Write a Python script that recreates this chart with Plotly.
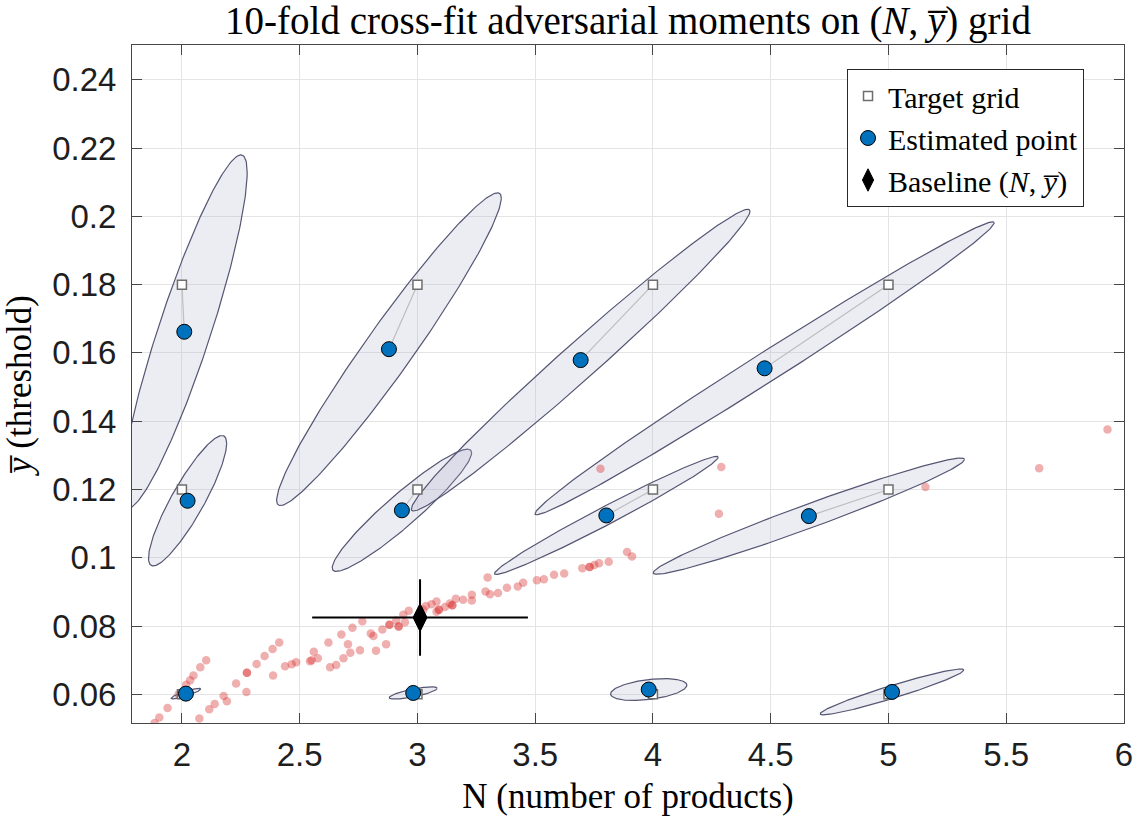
import numpy as np
import plotly.graph_objects as go

# ---------------- data ----------------
grid_N = [2, 2, 2, 3, 3, 3, 4, 4, 4, 5, 5, 5]
grid_y = [0.18, 0.12, 0.06, 0.18, 0.12, 0.06, 0.18, 0.12, 0.06, 0.18, 0.12, 0.06]

est_N = [2.010, 2.024, 2.017, 2.879, 2.934, 2.982, 3.693, 3.802, 3.982, 4.474, 4.662, 5.015]
est_y = [0.1662, 0.1167, 0.0602, 0.1611, 0.1139, 0.0604, 0.1579, 0.1124, 0.0614, 0.1555, 0.1122, 0.0607]

# confidence ellipse parameters (extent in N, extent in y, correlation)
ell_sN = [0.267, 0.166, 0.063, 0.477, 0.296, 0.102, 0.719, 0.475, 0.162, 0.975, 0.661, 0.305]
ell_sy = [0.0518, 0.0191, 0.00155, 0.0458, 0.0179, 0.0018, 0.0442, 0.0173, 0.0032, 0.0429, 0.0170, 0.0067]
ell_rho = [0.90, 0.88, 0.88, 0.966, 0.94, 0.76, 0.987, 0.985, 0.40, 0.993, 0.976, 0.956]

base_N = 3.011
base_y = 0.0825
base_errN = 0.458
base_erry = 0.0112

cloud_N = [1.884, 1.904, 1.939, 1.986, 2.018, 2.035, 2.049, 2.078, 2.103, 2.074, 2.116, 2.139,
           2.177, 2.191, 2.230, 2.276, 2.276, 2.274, 2.317, 2.351, 2.385, 2.413, 2.387, 2.438,
           2.466, 2.485, 2.544, 2.551, 2.577, 2.560, 2.622, 2.629, 2.655, 2.677, 2.705, 2.686,
           2.715, 2.724, 2.756, 2.766, 2.802, 2.813, 2.824, 2.851, 2.867, 2.881, 2.881, 2.920,
           2.920, 2.910, 2.940, 2.947, 2.963, 3.025, 3.036, 3.060, 3.081, 3.091, 3.091, 3.081,
           3.117, 3.138, 3.148, 3.148, 3.163, 3.194, 3.231, 3.231, 3.289, 3.298, 3.308, 3.342,
           3.380, 3.426, 3.449, 3.507, 3.537, 3.580, 3.623, 3.700, 3.731, 3.731, 3.751, 3.771,
           3.812, 3.890, 3.911, 3.777, 4.290, 4.280, 5.157, 5.640, 5.930]
cloud_y = [0.0516, 0.0532, 0.0560, 0.0600, 0.0628, 0.0641, 0.0655, 0.0679, 0.0700, 0.0529, 0.0556, 0.0572,
           0.0595, 0.0580, 0.0632, 0.0663, 0.0663, 0.0607, 0.0689, 0.0712, 0.0733, 0.0752, 0.0655, 0.0682,
           0.0688, 0.0694, 0.0697, 0.0700, 0.0706, 0.0725, 0.0752, 0.0679, 0.0686, 0.0775, 0.0747, 0.0706,
           0.0722, 0.0795, 0.0729, 0.0814, 0.0778, 0.0771, 0.0728, 0.0790, 0.0747, 0.0804, 0.0804, 0.0799,
           0.0799, 0.0816, 0.0833, 0.0811, 0.0845, 0.0848, 0.0859, 0.0864, 0.0872, 0.0848, 0.0848, 0.0842,
           0.0856, 0.0866, 0.0861, 0.0861, 0.0880, 0.0877, 0.0892, 0.0875, 0.0901, 0.0942, 0.0893, 0.0897,
           0.0912, 0.0916, 0.0927, 0.0934, 0.0937, 0.0950, 0.0954, 0.0969, 0.0973, 0.0973, 0.0979, 0.0984,
           0.0988, 0.1017, 0.1004, 0.1261, 0.1266, 0.1129, 0.1207, 0.1262, 0.1376]

x_ticks = [2, 2.5, 3, 3.5, 4, 4.5, 5, 5.5, 6]
x_ticktext = ["2", "2.5", "3", "3.5", "4", "4.5", "5", "5.5", "6"]
y_ticks = [0.06, 0.08, 0.10, 0.12, 0.14, 0.16, 0.18, 0.20, 0.22, 0.24]
y_ticktext = ["0.06", "0.08", "0.1", "0.12", "0.14", "0.16", "0.18", "0.2", "0.22", "0.24"]

# ---------------- figure ----------------
SERIF = "Liberation Serif, Times New Roman, serif"
SANS = "Liberation Sans, Arial, sans-serif"

fig = go.Figure()

t = np.linspace(0, 2 * np.pi, 241)
for cx, cy, sN, sy, r in zip(est_N, est_y, ell_sN, ell_sy, ell_rho):
    ex = cx + sN * np.cos(t)
    ey = cy + sy * (r * np.cos(t) + np.sqrt(1 - r * r) * np.sin(t))
    fig.add_trace(go.Scatter(
        x=ex, y=ey, mode="lines", fill="toself",
        fillcolor="rgba(175,175,205,0.24)",
        line=dict(color="rgb(85,85,115)", width=1.2),
        showlegend=False, hoverinfo="skip"))

fig.add_trace(go.Scatter(
    x=cloud_N, y=cloud_y, mode="markers",
    marker=dict(size=8.5, color="rgb(215,45,45)", opacity=0.38, line=dict(width=0)),
    showlegend=False, hoverinfo="skip"))

lx, ly = [], []
for gx, gy, ex_, ey_ in zip(grid_N, grid_y, est_N, est_y):
    lx += [gx, ex_, None]
    ly += [gy, ey_, None]
fig.add_trace(go.Scatter(x=lx, y=ly, mode="lines",
                         line=dict(color="rgb(190,190,190)", width=1.2),
                         showlegend=False, hoverinfo="skip"))

fig.add_trace(go.Scatter(
    x=grid_N, y=grid_y, mode="markers", name="Target grid",
    marker=dict(symbol="square", size=9, color="white",
                line=dict(color="rgb(110,110,110)", width=1.5))))

fig.add_trace(go.Scatter(
    x=est_N, y=est_y, mode="markers", name="Estimated point",
    marker=dict(symbol="circle", size=15, color="#0072BD",
                line=dict(color="black", width=1))))

fig.add_trace(go.Scatter(
    x=[base_N], y=[base_y], mode="markers", showlegend=False, hoverinfo="skip",
    marker=dict(size=1, color="rgba(0,0,0,0)"),
    error_x=dict(type="constant", value=base_errN, color="black", thickness=2, width=0),
    error_y=dict(type="constant", value=base_erry, color="black", thickness=2, width=0)))

fig.add_trace(go.Scatter(
    x=[base_N], y=[base_y], mode="markers",
    name="Baseline (<i>N</i>, <i>y\u0305</i>)",
    marker=dict(symbol="diamond-tall", size=20, color="black",
                line=dict(color="black", width=1))))

axis_common = dict(
    showline=True, linecolor="rgb(70,70,70)", linewidth=1, mirror="ticks",
    ticks="inside", ticklen=10, tickwidth=1, tickcolor="rgb(70,70,70)",
    showgrid=True, gridcolor="rgb(228,228,228)", gridwidth=1, zeroline=False,
    tickfont=dict(family=SANS, size=33, color="rgb(30,30,30)"),
    automargin=False,
)

fig.update_layout(
    width=1138, height=818,
    margin=dict(l=132, r=14, t=45, b=95),
    paper_bgcolor="white", plot_bgcolor="white",
    title=dict(text="10-fold cross-fit adversarial moments on (<i>N</i>, <i>y\u0305</i>) grid",
               font=dict(family=SERIF, size=39, color="black"),
               x=0.5, xref="paper", xanchor="center",
               y=1 - 20 / 818, yref="container", yanchor="middle"),
    xaxis=dict(range=[1.788, 6], tickvals=x_ticks, ticktext=x_ticktext,
               ticklabelstandoff=2,
               title=dict(text="N (number of products)",
                          font=dict(family=SERIF, size=35, color="black"), standoff=11),
               **axis_common),
    yaxis=dict(range=[0.0516, 0.2502], tickvals=y_ticks, ticktext=y_ticktext,
               ticklabelstandoff=8,
               title=dict(text="<i>y\u0305</i> (threshold)",
                          font=dict(family=SERIF, size=35, color="black"), standoff=13),
               **axis_common),
    legend=dict(x=0.9597, y=0.9646, xanchor="right", yanchor="top",
                bgcolor="white", bordercolor="rgb(40,40,40)", borderwidth=1,
                font=dict(family=SERIF, size=30, color="black"),
                itemsizing="trace", tracegroupgap=0),
    showlegend=True,
)

fig.write_html("out.html",
               config={"displayModeBar": False},
               post_script="document.body.style.margin='0px';document.body.style.overflow='hidden';")
